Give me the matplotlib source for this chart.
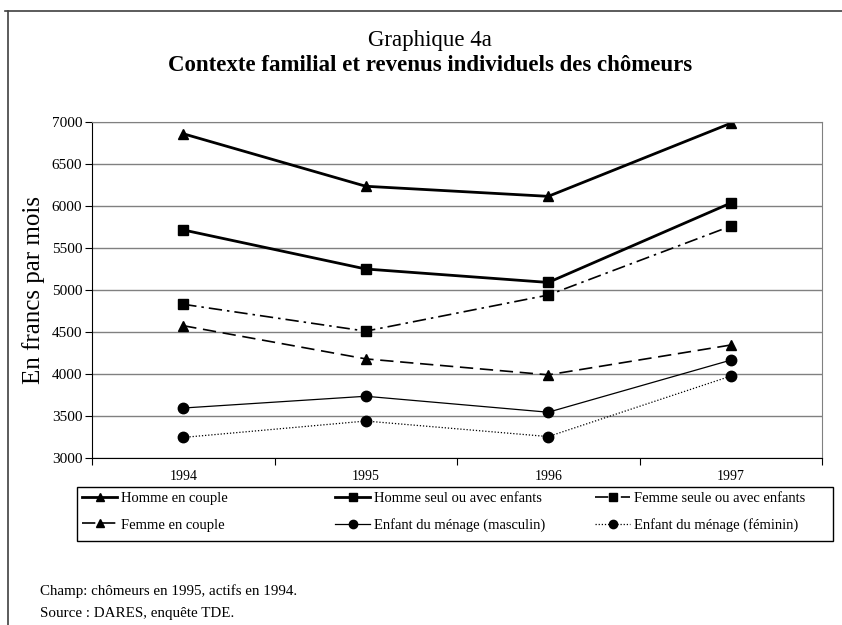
"""
Graphique 4a : contexte familial et revenus individuels des chômeurs.
"""

import matplotlib

matplotlib.use("Agg")
import matplotlib.pyplot as plt
from matplotlib.lines import Line2D
from matplotlib.patches import Rectangle

plt.rcParams["font.family"] = ["Liberation Serif", "DejaVu Serif"]

annees = ["1994", "1995", "1996", "1997"]

homme_couple = [6860, 6235, 6115, 6985]
homme_seul = [5715, 5250, 5090, 6035]
femme_seule = [4830, 4510, 4940, 5760]
femme_couple = [4575, 4180, 3990, 4345]
enfant_masc = [3595, 3735, 3545, 4165]
enfant_fem = [3245, 3440, 3255, 3975]

noms = [
    "Homme en couple",
    "Homme seul ou avec enfants",
    "Femme seule ou avec enfants",
    "Femme en couple",
    "Enfant du ménage (masculin)",
    "Enfant du ménage (féminin)",
]

W, H = 842, 625
fig = plt.figure(figsize=(W / 100, H / 100), dpi=100)

# cadre extérieur (haut et gauche seulement visibles)
fig.add_artist(Line2D([5 / W, 1.0], [1 - 11 / H, 1 - 11 / H], color="#404040", lw=1.2))
fig.add_artist(Line2D([8 / W, 8 / W], [0.0, 1 - 11 / H], color="#404040", lw=1.2))

ax = fig.add_axes([92 / W, 1 - 458 / H, 730 / W, 336 / H])

x = list(range(len(annees)))
series = [
    (homme_couple, dict(ls="-", lw=2.0, marker="^", ms=7.5)),
    (homme_seul, dict(ls="-", lw=2.0, marker="s", ms=7)),
    (femme_seule, dict(ls=(0, (8, 3, 1.5, 3)), lw=1.2, marker="s", ms=7)),
    (femme_couple, dict(ls=(0, (8, 4)), lw=1.2, marker="^", ms=7.5)),
    (enfant_masc, dict(ls="-", lw=0.9, marker="o", ms=7.5)),
    (enfant_fem, dict(ls=(0, (1, 1.5)), lw=0.9, marker="o", ms=7.5)),
]

handles = []
for (vals, style), nom in zip(series, noms):
    (h,) = ax.plot(x, vals, color="black", label=nom, **style)
    handles.append(h)

ax.set_xlim(-0.5, len(annees) - 0.5)
ax.set_ylim(3000, 7000)
ax.set_yticks(range(3000, 7001, 500))
ax.yaxis.grid(True, color="#808080", lw=1.0)
ax.set_axisbelow(True)

# graduations aux limites des catégories, libellés au centre
ax.set_xticks([i - 0.5 for i in range(len(annees) + 1)])
ax.set_xticklabels([])
ax.set_xticks(x, minor=True)
ax.set_xticklabels(annees, minor=True, fontsize=10)
ax.tick_params(axis="x", which="major", direction="out", length=5, color="black")
ax.tick_params(axis="x", which="minor", length=0, pad=9)
ax.tick_params(axis="y", direction="out", length=5, labelsize=11, pad=2)

for s in ["top", "right"]:
    ax.spines[s].set_color("#808080")
for s in ["left", "bottom"]:
    ax.spines[s].set_color("black")

fig.text(34 / W, 1 - 290 / H, "En francs par mois", rotation=90,
         ha="center", va="center", fontsize=18)

fig.text(430 / W, 1 - 46 / H, "Graphique 4a", ha="center", va="baseline", fontsize=16.5)
fig.text(430 / W, 1 - 71 / H, "Contexte familial et revenus individuels des chômeurs",
         ha="center", va="baseline", fontsize=16.5, fontweight="bold")

# légende : cadre + trois colonnes placées comme dans l'original
fig.add_artist(Rectangle((77 / W, 1 - 541 / H), 756 / W, 54 / H, transform=fig.transFigure,
                         fill=False, edgecolor="black", lw=1.0))
colonnes = [(82, [0, 3]), (335, [1, 4]), (595, [2, 5])]
for xc, idx in colonnes:
    leg = fig.legend(
        [handles[i] for i in idx],
        [noms[i] for i in idx],
        loc="upper left",
        bbox_to_anchor=(xc / W, 1 - 492 / H),
        fontsize=10.5,
        frameon=False,
        handlelength=2.4,
        handletextpad=0.25,
        borderpad=0,
        labelspacing=0.9,
        borderaxespad=0,
    )
    for lh in leg.legend_handles:
        lh.set_markersize(6)

fig.text(40 / W, 1 - 591 / H, "Champ: chômeurs en 1995, actifs en 1994.", fontsize=10.8, va="center")
fig.text(40 / W, 1 - 613 / H, "Source : DARES, enquête TDE.", fontsize=10.8, va="center")

fig.savefig("out.png", dpi=100)
